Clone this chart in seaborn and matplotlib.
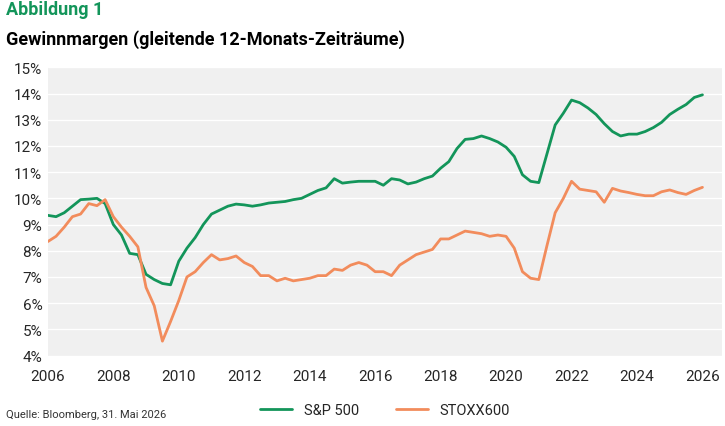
import numpy as np
import pandas as pd
import seaborn as sns
from matplotlib import pyplot as plt
from matplotlib.ticker import FuncFormatter

years = np.arange(2006, 2026.01, 0.25)

sp500 = [9.35, 9.3, 9.45, 9.7, 9.95, 9.97, 10.0, 9.8, 9.0, 8.6, 7.9, 7.85,
         7.1, 6.9, 6.75, 6.7, 7.6, 8.1, 8.5, 9.0, 9.4, 9.55, 9.7, 9.78,
         9.75, 9.7, 9.75, 9.82, 9.85, 9.88, 9.95, 10.0, 10.15, 10.3, 10.4, 10.75,
         10.58, 10.62, 10.65, 10.65, 10.65, 10.5, 10.75, 10.7, 10.55, 10.62, 10.75, 10.85,
         11.15, 11.4, 11.9, 12.25, 12.28, 12.38, 12.28, 12.15, 11.95, 11.6, 10.9, 10.65,
         10.6, 11.7, 12.8, 13.25, 13.75, 13.65, 13.45, 13.2, 12.85, 12.55, 12.38, 12.45,
         12.45, 12.55, 12.7, 12.9, 13.2, 13.4, 13.58, 13.85, 13.95]

stoxx600 = [8.35, 8.55, 8.9, 9.3, 9.4, 9.8, 9.72, 9.95, 9.3, 8.9, 8.55, 8.15,
            6.6, 5.9, 4.55, 5.3, 6.1, 7.0, 7.2, 7.55, 7.85, 7.65, 7.7, 7.8,
            7.55, 7.4, 7.05, 7.05, 6.85, 6.95, 6.85, 6.9, 6.95, 7.05, 7.05, 7.3,
            7.25, 7.45, 7.55, 7.45, 7.2, 7.2, 7.05, 7.45, 7.65, 7.85, 7.95, 8.05,
            8.45, 8.45, 8.6, 8.75, 8.7, 8.65, 8.55, 8.6, 8.55, 8.1, 7.2, 6.95,
            6.9, 8.2, 9.45, 10.0, 10.65, 10.35, 10.3, 10.25, 9.85, 10.38, 10.28, 10.22,
            10.15, 10.1, 10.1, 10.25, 10.32, 10.22, 10.15, 10.3, 10.42]

df = pd.DataFrame({"Jahr": years, "S&P 500": sp500, "STOXX600": stoxx600})
long = df.melt(id_vars="Jahr", var_name="Index", value_name="Marge")

sns.set_theme(style="white")
plt.rcParams['font.family'] = ['Roboto', 'DejaVu Sans']

fig = plt.figure(figsize=(7.25, 4.27), dpi=100)
ax = fig.add_axes([0.066, 0.165, 0.93, 0.675])
ax.set_facecolor("#f0f0f0")

sns.lineplot(data=long, x="Jahr", y="Marge", hue="Index", ax=ax, linewidth=2,
             palette={"S&P 500": "#13955a", "STOXX600": "#f28c5c"})

ax.set_xlim(2006, 2026.6)
ax.set_ylim(4, 15)
ax.set_xticks(range(2006, 2027, 2))
ax.set_yticks(range(4, 16))
ax.yaxis.set_major_formatter(FuncFormatter(lambda v, p: f"{v:.0f}%"))
ax.grid(axis="y", color="white", linewidth=1)
ax.set_axisbelow(True)
for s in ax.spines.values():
    s.set_visible(False)
ax.tick_params(axis="y", labelsize=11, length=0, pad=4)
ax.tick_params(axis="x", labelsize=11, length=0, pad=10)
ax.set_xlabel("")
ax.set_ylabel("")

ax.legend(loc="upper center", bbox_to_anchor=(0.5, -0.12), ncol=2, frameon=False,
          fontsize=10.5, handlelength=2.2, columnspacing=2.5)

fig.text(0.008, 0.965, "Abbildung 1", color="#13955a", fontsize=13, fontweight="bold")
fig.text(0.008, 0.895, "Gewinnmargen (gleitende 12-Monats-Zeiträume)", color="black",
         fontsize=13, fontweight="bold")
fig.text(0.008, 0.02, "Quelle: Bloomberg, 31. Mai 2026", fontsize=8, color="#333333")

fig.savefig("out.png", dpi=100)
